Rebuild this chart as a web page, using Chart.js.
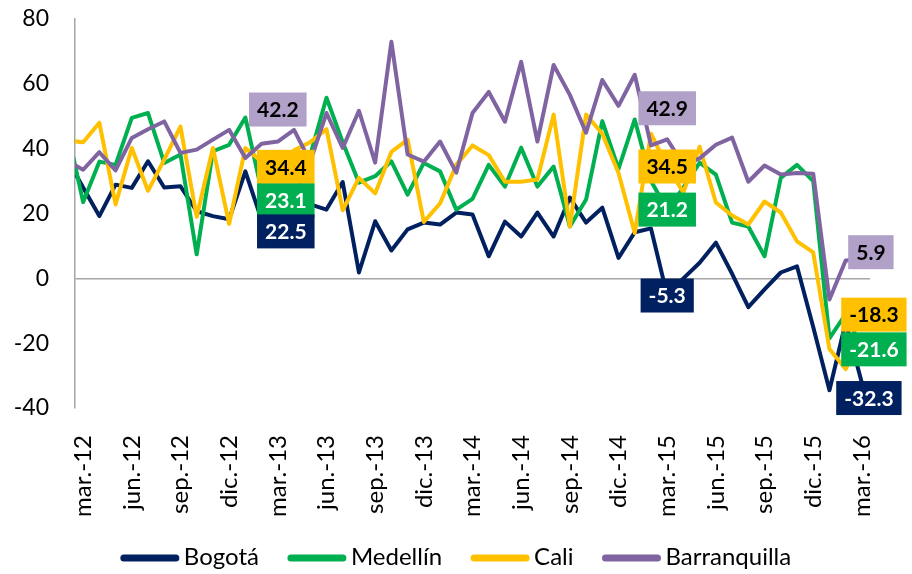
<!DOCTYPE html>
<html lang="es">
<head>
    <meta charset="UTF-8">
    <title>Ciudades</title>
    <script src="https://cdn.jsdelivr.net/npm/chart.js"></script>
    <style>
        html, body { margin: 0; padding: 0; background: #ffffff; }
    </style>
</head>
<body>
    <canvas id="cityChart" width="912" height="574"></canvas>

    <script>
        // months (first one sits just left of the axis, the lines run into the axis)
        const months = [
            'feb.-12', 'mar.-12', 'abr.-12', 'may.-12', 'jun.-12', 'jul.-12', 'ago.-12', 'sep.-12', 'oct.-12', 'nov.-12', 'dic.-12',
            'ene.-13', 'feb.-13', 'mar.-13', 'abr.-13', 'may.-13', 'jun.-13', 'jul.-13', 'ago.-13', 'sep.-13', 'oct.-13', 'nov.-13', 'dic.-13',
            'ene.-14', 'feb.-14', 'mar.-14', 'abr.-14', 'may.-14', 'jun.-14', 'jul.-14', 'ago.-14', 'sep.-14', 'oct.-14', 'nov.-14', 'dic.-14',
            'ene.-15', 'feb.-15', 'mar.-15', 'abr.-15', 'may.-15', 'jun.-15', 'jul.-15', 'ago.-15', 'sep.-15', 'oct.-15', 'nov.-15', 'dic.-15',
            'ene.-16', 'feb.-16', 'mar.-16'
        ];

        const bogota = [37, 28, 19.2, 28.9, 27.9, 36.1, 28, 28.4, 20.7, 19.2, 18.2,
            33, 18, 22.5, 22, 22.8, 21.2, 29.7, 1.8, 17.6, 8.6, 15.1, 17.2,
            16.6, 20.3, 19.7, 6.8, 17.5, 12.9, 20.3, 12.9, 24.9, 17.2, 21.8, 6.3,
            14.2, 15.4, -5.3, 0, 4.8, 11, 1.4, -8.9, -3.4, 1.8, 3.7, -15,
            -34.5, -13.5, -32.3];
        const medellin = [46.5, 23.5, 36, 35, 49.5, 51, 35.6, 38.2, 7.4, 39.2, 41.2,
            49.6, 27, 23.1, 25, 38, 55.7, 42, 29.5, 31.5, 36.1, 25.8, 35.6,
            33, 21.2, 24.5, 35, 28.3, 40.3, 28.3, 34.5, 16, 24.3, 48.5, 33.8,
            49, 30, 21.2, 28, 35.7, 32, 17.2, 16, 6.8, 31, 35, 30,
            -18.5, -11, -21.6];
        const cali = [42.5, 42, 48, 22.8, 40.2, 27, 36.6, 46.8, 19, 40.2, 16.8,
            40.2, 36, 34.4, 39.5, 42, 46, 21, 31, 26.2, 39, 42.8, 17.4,
            23.1, 35, 41, 38, 29.8, 29.8, 30.5, 50.5, 16, 50.5, 44.6, 32.5,
            14, 44.6, 34.5, 26.5, 40.6, 23.4, 19.4, 16.6, 23.7, 20.3, 11.4, 8,
            -21.8, -28, -18.3];
        const barranquilla = [36.3, 33.5, 38.9, 33.3, 43.3, 46, 48.4, 38.7, 39.7, 42.8, 45.8,
            37.1, 41.5, 42.2, 45.8, 36, 51, 40.2, 51.7, 35.7, 73, 38.2, 36,
            42.2, 32.6, 51, 57.5, 48.3, 66.8, 42.2, 65.8, 56.6, 44.9, 61.2, 53.2,
            62.8, 41, 42.9, 35, 37, 41.2, 43.4, 29.8, 34.8, 32, 32.5, 32.3,
            -6.5, 5.5, 5.9];

        const cities = ['Bogotá', 'Medellín', 'Cali', 'Barranquilla'];
        const cityValues = [bogota, medellin, cali, barranquilla];
        const lineColors = ['#002060', '#00B050', '#FFC000', '#8064A2'];
        const boxColors = ['#002060', '#00B050', '#FFC000', '#B1A0C7'];
        const boxText = ['#ffffff', '#ffffff', '#000000', '#000000'];

        // which points get a value box: [dataset, month index, dx, dy]
        const labelSpots = [
            [3, 13, 0, -32], [2, 13, 8, 0], [1, 13, 8, -3], [0, 13, 8, 26],
            [3, 37, 0, -31], [2, 37, 0, 0], [1, 37, 0, 0], [0, 37, 0, 0],
            [3, 49, 9, -7], [2, 49, 12, -23], [1, 49, 12, 1], [0, 49, 7, 15]
        ];

        const FONT = 'Lato, "Open Sans", sans-serif';

        const valueBoxes = {
            id: 'valueBoxes',
            afterDatasetsDraw(chart) {
                const ctx = chart.ctx;
                ctx.save();
                ctx.font = 'bold 21px ' + FONT;
                ctx.textAlign = 'center';
                ctx.textBaseline = 'middle';
                labelSpots.forEach(([ds, idx, dx, dy]) => {
                    const pt = chart.getDatasetMeta(ds).data[idx];
                    const txt = cityValues[ds][idx].toFixed(1);
                    const w = ctx.measureText(txt).width + 16;
                    const h = 34;
                    const cx = pt.x + dx, cy = pt.y + dy;
                    ctx.fillStyle = boxColors[ds];
                    ctx.fillRect(cx - w / 2, cy - h / 2, w, h);
                    ctx.fillStyle = boxText[ds];
                    ctx.fillText(txt, cx, cy + 1);
                });
                ctx.restore();
            }
        };

        const bottomLegend = {
            id: 'bottomLegend',
            afterDraw(chart) {
                const ctx = chart.ctx;
                ctx.save();
                ctx.font = '24px ' + FONT;
                ctx.textBaseline = 'middle';
                const sample = 58, gapText = 5, gapItem = 29, y = 557;
                const widths = cities.map(c => sample + gapText + ctx.measureText(c).width);
                const total = widths.reduce((a, b) => a + b, 0) + gapItem * (cities.length - 1);
                let x = (chart.width - total) / 2;
                cities.forEach((c, i) => {
                    ctx.strokeStyle = lineColors[i];
                    ctx.lineWidth = 7;
                    ctx.lineCap = 'round';
                    ctx.beginPath();
                    ctx.moveTo(x + 3, y + 1);
                    ctx.lineTo(x + sample - 3, y + 1);
                    ctx.stroke();
                    ctx.fillStyle = '#000000';
                    ctx.fillText(c, x + sample + gapText, y);
                    x += widths[i] + gapItem;
                });
                ctx.restore();
            }
        };

        new Chart(document.getElementById('cityChart'), {
            type: 'line',
            data: {
                datasets: cities.map((c, i) => ({
                    label: c,
                    data: months.map((m, j) => ({ x: j, y: cityValues[i][j] })),
                    borderColor: lineColors[i],
                    borderWidth: 4,
                    borderJoinStyle: 'round',
                    pointRadius: 0,
                    tension: 0,
                    order: cities.length - i
                }))
            },
            options: {
                responsive: false,
                animation: false,
                layout: { padding: { top: 19, right: 42, bottom: 36, left: 0 } },
                plugins: {
                    legend: { display: false },
                    tooltip: { enabled: false }
                },
                scales: {
                    x: {
                        type: 'linear',
                        min: 0.5,
                        max: months.length - 0.5,
                        afterBuildTicks: s => {
                            s.ticks = months.map((m, i) => ({ value: i })).filter(t => t.value % 3 === 1);
                        },
                        afterFit: s => { s.height = 130; s.paddingLeft = 0; s.paddingRight = 0; },
                        grid: { display: false },
                        border: { display: false },
                        ticks: {
                            autoSkip: false,
                            minRotation: 90,
                            maxRotation: 90,
                            padding: 19,
                            color: '#000000',
                            font: { family: FONT, size: 24 },
                            callback: v => months[v]
                        }
                    },
                    y: {
                        min: -40,
                        max: 80,
                        afterFit: s => { s.width = 75; s.paddingTop = 0; s.paddingBottom = 0; },
                        grid: {
                            drawTicks: false,
                            lineWidth: 1.5,
                            color: c => c.tick && c.tick.value === 0 ? '#A6A6A6' : 'rgba(0,0,0,0)'
                        },
                        border: { display: true, color: '#A6A6A6', width: 1.5 },
                        ticks: {
                            stepSize: 20,
                            padding: 26,
                            color: '#000000',
                            font: { family: FONT, size: 23 }
                        }
                    }
                }
            },
            plugins: [valueBoxes, bottomLegend]
        });
    </script>
</body>
</html>
